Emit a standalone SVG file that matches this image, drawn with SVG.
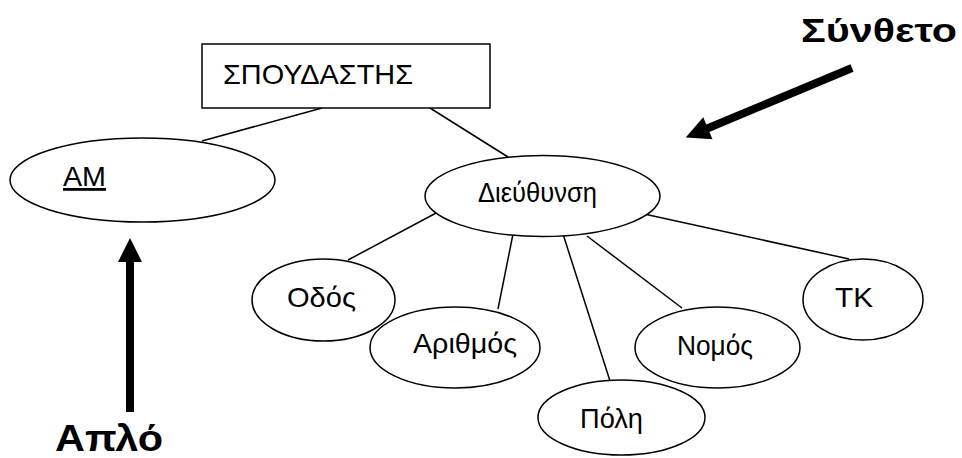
<svg xmlns="http://www.w3.org/2000/svg" width="962" height="458" viewBox="0 0 962 458">
  <style>
    .bg { fill: #ffffff; }
    .shape { fill: #ffffff; stroke: #000000; stroke-width: 1.5; }
    .link { stroke: #000000; stroke-width: 1.5; fill: none; }
    .lbl { font-family: "Liberation Sans", Arial, sans-serif; font-size: 28px; fill: #000000; }
    .note { font-family: "Liberation Sans", Arial, sans-serif; font-weight: bold; fill: #000000; }
    .pointer { stroke: #000000; stroke-width: 8; fill: none; marker-end: url(#head); }
  </style>
  <defs>
    <marker id="head" viewBox="0 0 24 24" markerWidth="24" markerHeight="24" refX="2" refY="12" orient="auto" markerUnits="userSpaceOnUse" overflow="visible">
      <path d="M0,0 L24,12 L0,24 Z" fill="#000000"/>
    </marker>
  </defs>

  <rect class="bg" x="0" y="0" width="962" height="458"/>

  <!-- connectors between entity and attributes -->
  <g id="connectors">
    <line class="link" x1="322" y1="108" x2="202" y2="141"/>
    <line class="link" x1="430" y1="108" x2="508" y2="157"/>
    <line class="link" x1="438" y1="212" x2="348" y2="260"/>
    <line class="link" x1="513" y1="234" x2="498" y2="309"/>
    <line class="link" x1="563" y1="234" x2="610" y2="381"/>
    <line class="link" x1="587" y1="236" x2="682" y2="308"/>
    <line class="link" x1="635" y1="212" x2="849" y2="259"/>
  </g>

  <g id="student">
    <rect class="shape" x="202" y="44" width="288" height="64"/>
    <text class="lbl" x="223" y="84" font-size="32" textLength="190" lengthAdjust="spacingAndGlyphs">ΣΠΟΥΔΑΣΤΗΣ</text>
  </g>

  <g id="am">
    <ellipse class="shape" cx="142.5" cy="180" rx="132.5" ry="42"/>
    <text class="lbl" x="63" y="186" font-size="29" text-decoration="underline" textLength="43" lengthAdjust="spacingAndGlyphs">AM</text>
  </g>

  <g id="address">
    <ellipse class="shape" cx="542.5" cy="196" rx="117.5" ry="40.5"/>
    <text class="lbl" x="478" y="202" textLength="119" lengthAdjust="spacingAndGlyphs">Διεύθυνση</text>
  </g>

  <g id="street">
    <ellipse class="shape" cx="323.5" cy="300" rx="71.5" ry="41"/>
    <text class="lbl" x="287" y="307" textLength="69" lengthAdjust="spacingAndGlyphs">Οδός</text>
  </g>

  <g id="number">
    <ellipse class="shape" cx="455" cy="347.5" rx="85" ry="40.5"/>
    <text class="lbl" x="413" y="353" textLength="104" lengthAdjust="spacingAndGlyphs">Αριθμός</text>
  </g>

  <g id="city">
    <ellipse class="shape" cx="621.5" cy="417.5" rx="83.5" ry="37.5"/>
    <text class="lbl" x="580" y="428" textLength="63" lengthAdjust="spacingAndGlyphs">Πόλη</text>
  </g>

  <g id="prefecture">
    <ellipse class="shape" cx="717.5" cy="347.5" rx="82.5" ry="40.5"/>
    <text class="lbl" x="677" y="355" textLength="76" lengthAdjust="spacingAndGlyphs">Νομός</text>
  </g>

  <g id="postcode">
    <ellipse class="shape" cx="863" cy="299.5" rx="60" ry="40.5"/>
    <text class="lbl" x="835" y="307" textLength="38" lengthAdjust="spacingAndGlyphs">TK</text>
  </g>

  <!-- annotations -->
  <g id="simple-note">
    <line class="pointer" x1="130" y1="412" x2="130" y2="260"/>
    <text class="note" x="55" y="451" font-size="37" textLength="108" lengthAdjust="spacingAndGlyphs">Απλό</text>
  </g>

  <g id="composite-note">
    <line class="pointer" stroke-width="7" x1="852" y1="68" x2="706" y2="129"/>
    <text class="note" x="801" y="42" font-size="34" textLength="156" lengthAdjust="spacingAndGlyphs">Σύνθετο</text>
  </g>
</svg>
